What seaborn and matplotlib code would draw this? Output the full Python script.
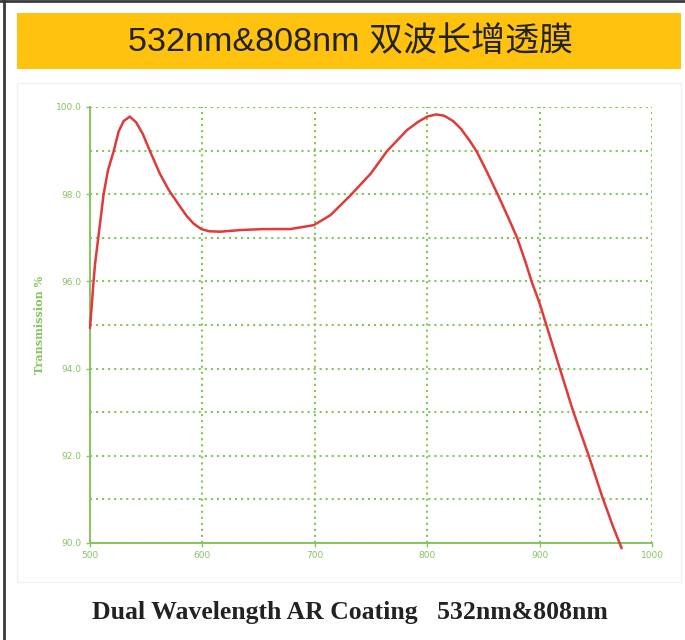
"""532nm&808nm 双波长增透膜 透过率曲线."""

import matplotlib

matplotlib.use("Agg")

import matplotlib.pyplot as plt
import seaborn as sns
from matplotlib.lines import Line2D
from matplotlib.patches import Rectangle
from matplotlib.ticker import MultipleLocator

# 读图得到的曲线数据
wavelength = [
    500, 502, 503, 504.5, 507.5, 510, 512, 516, 521, 525.5, 530, 535.5, 541,
    547, 553, 562, 570, 580, 586, 592, 599, 606, 616, 635, 654, 678, 699,
    714, 732, 750, 764, 782, 792, 800, 808, 815, 823, 830, 838, 844, 853,
    863, 872, 880, 887, 893, 900, 906, 918, 930, 944, 955.5, 965, 973,
]
transmission = [
    94.93, 95.6, 95.96, 96.4, 97.03, 97.55, 97.98, 98.55, 98.98, 99.44,
    99.68, 99.78, 99.65, 99.38, 99.01, 98.48, 98.1, 97.72, 97.5, 97.33,
    97.2, 97.15, 97.14, 97.18, 97.2, 97.2, 97.29, 97.52, 97.98, 98.48,
    98.98, 99.47, 99.66, 99.78, 99.83, 99.8, 99.68, 99.5, 99.22, 98.98,
    98.52, 97.98, 97.47, 97.0, 96.48, 95.99, 95.5, 95.0, 94.0, 93.01, 91.98,
    91.08, 90.4, 89.88,
]
x_ticks = [500, 600, 700, 800, 900, 1000]
y_ticks = [90.0, 92.0, 94.0, 96.0, 98.0, 100.0]

GREEN = "#86c45e"
RED = "#e03a3a"
DOTS = (0, (1, 1.9))
GRID_LW = 1.5

sns.set_theme(style="white")
plt.rcParams["font.family"] = ["Noto Sans CJK SC", "DejaVu Sans"]

fig = plt.figure(figsize=(6.85, 6.4), dpi=100)

# 外框与面板
fig.add_artist(Line2D([3.5 / 685, 3.5 / 685], [0, 1], color="#3a3a3a", lw=2))
fig.add_artist(Line2D([0, 1], [1 - 1 / 640, 1 - 1 / 640], color="#3a3a3a", lw=2))
fig.patches.append(Rectangle((17 / 685, 1 - 69 / 640), 664 / 685, 56 / 640,
                             transform=fig.transFigure, facecolor="#ffc20e",
                             edgecolor="none", zorder=-2))
fig.patches.append(Rectangle((17 / 685, 1 - 582 / 640), 664 / 685, 499 / 640,
                             transform=fig.transFigure, facecolor="white",
                             edgecolor="#f0f0f0", lw=1, zorder=-2))
fig.text(350 / 685, 1 - 42 / 640, "532nm&808nm 双波长增透膜", ha="center",
         va="center", fontsize=24.5, color="#222222",
         family=["Liberation Sans", "Noto Sans CJK SC"])
fig.text(350 / 685, 1 - 612 / 640, "Dual Wavelength AR Coating   532nm&808nm",
         ha="center", va="center", fontsize=18.5, fontweight="bold",
         family="Liberation Serif", color="#222222")

ax = fig.add_axes([90 / 685, 1 - 543 / 640, 562 / 685, 436 / 640])
ax.set_facecolor("none")
sns.lineplot(x=wavelength, y=transmission, color=RED, lw=1.8, ax=ax,
             sort=False, clip_on=False, zorder=5)

ax.set_xlim(500, 1000)
ax.set_ylim(90, 100)
ax.set_xticks(x_ticks)
ax.set_xticklabels([str(v) for v in x_ticks])
ax.set_yticks(y_ticks)
ax.set_yticklabels([f"{v:.1f}" for v in y_ticks])
ax.yaxis.set_minor_locator(MultipleLocator(1))
ax.grid(True, which="both", axis="y", color=GREEN, ls=DOTS, lw=GRID_LW)
ax.grid(True, which="major", axis="x", color=GREEN, ls=DOTS, lw=GRID_LW)

for side in ("left", "bottom"):
    ax.spines[side].set_color(GREEN)
    ax.spines[side].set_linewidth(1.4)
for side in ("top", "right"):
    ax.spines[side].set_visible(False)
ax.axhline(100, color=GREEN, ls=DOTS, lw=GRID_LW)
ax.axvline(1000, color=GREEN, ls=DOTS, lw=GRID_LW)

ax.tick_params(axis="both", which="major", length=3, width=1, color=GREEN,
               labelcolor=GREEN, labelsize=6.5, pad=3, left=True, bottom=True)
ax.tick_params(axis="y", which="minor", length=0)
for lab in ax.get_xticklabels() + ax.get_yticklabels():
    lab.set_family("DejaVu Sans")
ax.set_xlabel("")
ax.set_ylabel("Transmission %", color=GREEN, fontsize=8, fontweight="bold",
              family="DejaVu Serif", labelpad=8)

fig.savefig("out.png", dpi=100)
